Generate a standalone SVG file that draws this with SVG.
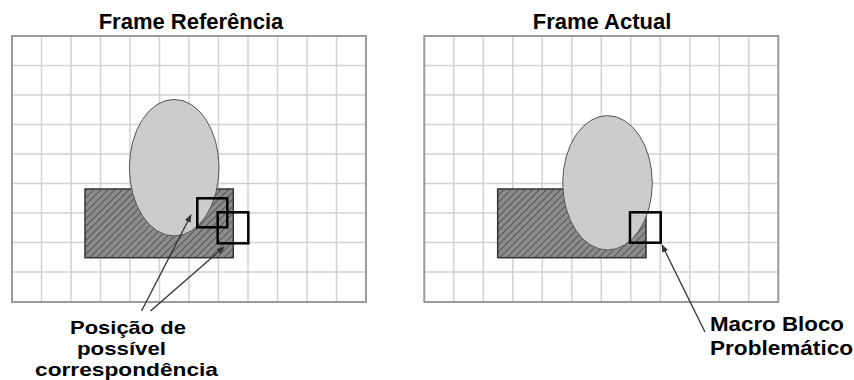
<svg xmlns="http://www.w3.org/2000/svg" width="854" height="380" viewBox="0 0 854 380">
<style>
.title{font-family:"Liberation Sans",Arial,sans-serif;font-weight:bold;font-size:22px;fill:#000}
.lbl{font-family:"Liberation Sans",Arial,sans-serif;font-weight:bold;font-size:18.5px;fill:#000}
.lbr{font-family:"Liberation Sans",Arial,sans-serif;font-weight:bold;font-size:21px;fill:#000}
.grid{stroke:#d2d2d2;stroke-width:1.5;fill:none}
.frame{stroke:#9a9a9a;stroke-width:2;fill:none}
.ell{fill:#cccccc;stroke:#555;stroke-width:1}
.hat{fill:url(#hatch);stroke:#333;stroke-width:1.5}
.mb{fill:none;stroke:#000;stroke-width:2.5}
.arr{stroke:#333;stroke-width:1.3;fill:none;marker-end:url(#ah)}
</style>
<defs>
<pattern id="hatch" patternUnits="userSpaceOnUse" width="5" height="5" patternTransform="rotate(45)">
<rect width="5" height="5" fill="#8c8c8c"/>
<line x1="0" y1="0" x2="0" y2="5" stroke="#555" stroke-width="2"/>
</pattern>
<marker id="ah" viewBox="0 0 10 10" refX="9" refY="5" markerWidth="8" markerHeight="8" orient="auto" markerUnits="userSpaceOnUse">
<path d="M0,1 L10,5 L0,9 Z" fill="#333"/>
</marker>
</defs>
<g id="frame-ref">
<path class="grid" d="M41.5,36V302M71,36V302M100.5,36V302M130,36V302M159.5,36V302M189,36V302M218.5,36V302M248,36V302M277.5,36V302M307,36V302M336.5,36V302M12,65.5H366M12,95H366M12,124.5H366M12,154H366M12,183.5H366M12,213H366M12,242.5H366M12,272H366"/>
<rect class="frame" x="12" y="36" width="354" height="266"/>
<text class="title" x="191" y="29" text-anchor="middle">Frame Referência</text>
</g>
<g id="ref-rect"><rect class="hat" x="85" y="189" width="148.3" height="68.7"/></g>
<g id="ref-ellipse"><ellipse class="ell" cx="174.2" cy="167.7" rx="44.8" ry="68.3"/></g>
<g id="ref-block1"><rect class="mb" x="197.3" y="198.3" width="30" height="29"/></g>
<g id="ref-block2"><rect class="mb" x="217.7" y="212.3" width="30.6" height="31"/></g>
<g id="frame-act">
<path class="grid" d="M453.8,36V302M483.3,36V302M512.8,36V302M542.3,36V302M571.8,36V302M601.3,36V302M630.8,36V302M660.3,36V302M689.8,36V302M719.3,36V302M748.8,36V302M424.3,65.5H778.3M424.3,95H778.3M424.3,124.5H778.3M424.3,154H778.3M424.3,183.5H778.3M424.3,213H778.3M424.3,242.5H778.3M424.3,272H778.3"/>
<rect class="frame" x="424.3" y="36" width="354" height="266"/>
<text class="title" x="602" y="29" text-anchor="middle">Frame Actual</text>
</g>
<g id="act-rect"><rect class="hat" x="497.7" y="189" width="148.3" height="68.7"/></g>
<g id="act-ellipse"><ellipse class="ell" cx="607.5" cy="182.8" rx="44.8" ry="67.2"/></g>
<g id="act-block"><rect class="mb" x="630" y="212.3" width="30.7" height="30.4"/></g>
<g id="connectors">
<line class="arr" x1="141.5" y1="311" x2="191" y2="215"/>
<line class="arr" x1="150.5" y1="311" x2="224" y2="247"/>
<line class="arr" x1="705" y1="332" x2="662" y2="245"/>
</g>
<g id="label-left">
<text class="lbl" x="70" y="334" textLength="116" lengthAdjust="spacingAndGlyphs">Posição de</text>
<text class="lbl" x="77" y="355" textLength="89" lengthAdjust="spacingAndGlyphs">possível</text>
<text class="lbl" x="35" y="376" textLength="183" lengthAdjust="spacingAndGlyphs">correspondência</text>
</g>
<g id="label-right">
<text class="lbr" x="710" y="331" textLength="134" lengthAdjust="spacingAndGlyphs">Macro Bloco</text>
<text class="lbr" x="710" y="355" textLength="143" lengthAdjust="spacingAndGlyphs">Problemático</text>
</g>
</svg>
